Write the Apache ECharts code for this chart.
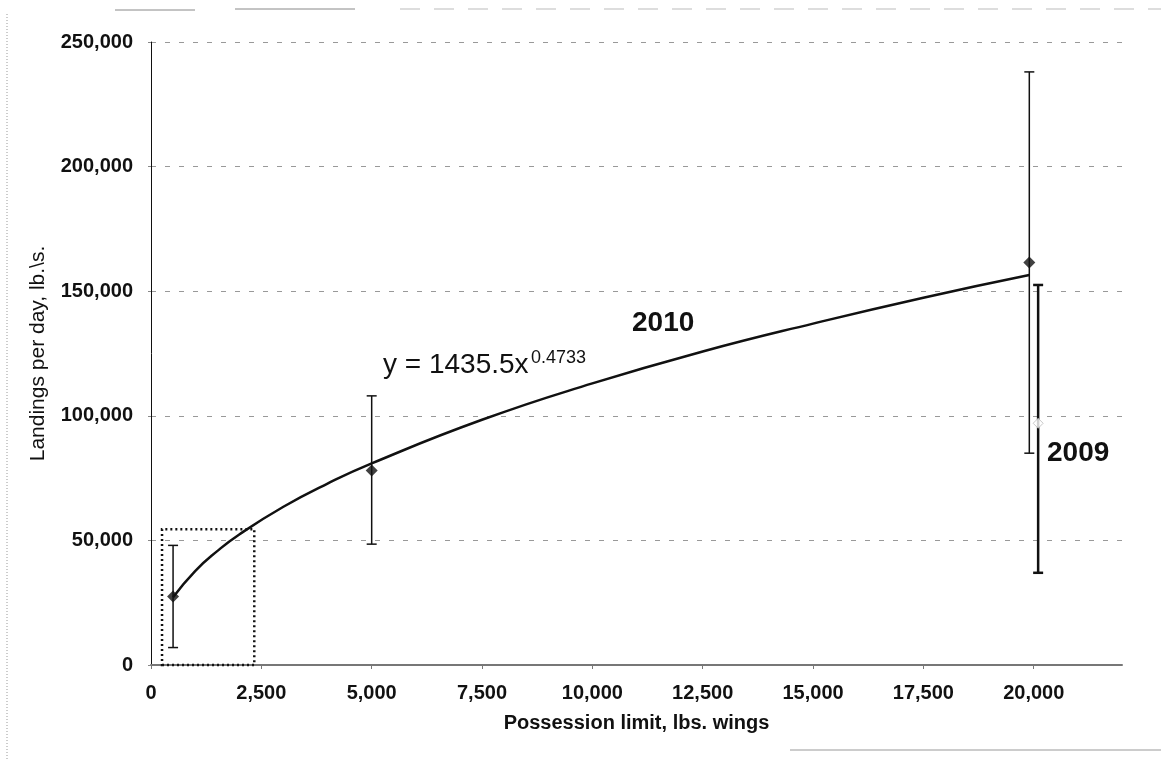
<!DOCTYPE html>
<html>
<head>
<meta charset="utf-8">
<script src="https://cdn.jsdelivr.net/npm/echarts@6/dist/echarts.min.js"></script>
<style>
  html, body { margin: 0; padding: 0; background: #fff; }
  #chart { width: 1161px; height: 759px; }
</style>
</head>
<body>
<div id="chart"></div>
<script>
// possession limit (lbs. wings) and landings per day (lbs.)
const limits2010 = [500, 5000, 19900]
const landings2010 = [27500, 78000, 161500]
const low2010 = [7000, 48500, 85000]
const high2010 = [48000, 108000, 238000]

const limits2009 = [20100]
const landings2009 = [97000]
const low2009 = [37000]
const high2009 = [152500]

// power trend line
const trendX = [500, 1000, 1500, 2000, 3000, 4000, 5000, 7500, 10000, 12500, 15000, 17500, 19900]
const trendY = [27200, 37700, 45700, 52400, 63500, 72800, 80900, 98400, 113000, 125800, 137000, 147400, 156500]

// dotted box round the low limits
const boxFrom = [250, 0]
const boxTo = [2340, 54500]

const chart = echarts.init(document.getElementById('chart'))
const fmt = v => v.toLocaleString('en-US')
const ink = '#111'

function errorBar(width) {
  return function(params, api) {
    const x = api.value(0)
    const top = api.coord([x, api.value(2)])
    const bot = api.coord([x, api.value(1)])
    const cap = 5
    const style = { stroke: ink, lineWidth: width }
    return {
      type: 'group',
      children: [
        { type: 'line', shape: { x1: top[0], y1: top[1], x2: bot[0], y2: bot[1] }, style: style },
        { type: 'line', shape: { x1: top[0] - cap, y1: top[1], x2: top[0] + cap, y2: top[1] }, style: style },
        { type: 'line', shape: { x1: bot[0] - cap, y1: bot[1], x2: bot[0] + cap, y2: bot[1] }, style: style }
      ]
    }
  }
}

chart.setOption({
  backgroundColor: '#fff',
  animation: false,
  grid: { left: 151, right: 39, top: 42, bottom: 94 },
  xAxis: {
    type: 'value',
    min: 0,
    max: 22000,
    interval: 2500,
    name: 'Possession limit, lbs. wings',
    nameLocation: 'middle',
    nameGap: 48,
    nameMoveOverlap: false,
    nameTextStyle: { fontFamily: 'Liberation Sans', fontSize: 20, fontWeight: 'bold', color: ink },
    axisLine: { lineStyle: { color: '#777', width: 2 } },
    axisTick: { show: true, length: 4, lineStyle: { color: '#777' } },
    axisLabel: {
      margin: 18,
      showMaxLabel: false,
      fontFamily: 'Liberation Sans', fontSize: 20, fontWeight: 'bold', color: ink,
      formatter: fmt
    },
    splitLine: { show: false }
  },
  yAxis: {
    type: 'value',
    min: 0,
    max: 250000,
    interval: 50000,
    name: 'Landings per day, lb.\\s.',
    nameLocation: 'middle',
    nameGap: 102,
    nameMoveOverlap: false,
    nameTextStyle: { fontFamily: 'Liberation Sans', fontSize: 21, color: ink },
    axisLine: { show: true, lineStyle: { color: ink, width: 1 } },
    axisTick: { show: true, length: 3, lineStyle: { color: '#888' } },
    axisLabel: {
      margin: 18,
      fontFamily: 'Liberation Sans', fontSize: 20, fontWeight: 'bold', color: ink,
      formatter: fmt
    },
    splitLine: { show: true, lineStyle: { color: '#999', width: 1, type: [5, 9] } }
  },
  series: [
    {
      name: 'bars 2010',
      type: 'custom',
      renderItem: errorBar(1.5),
      encode: { x: 0, y: [1, 2] },
      data: limits2010.map((x, i) => [x, low2010[i], high2010[i]]),
      z: 2
    },
    {
      name: 'bars 2009',
      type: 'custom',
      renderItem: errorBar(2.5),
      encode: { x: 0, y: [1, 2] },
      data: limits2009.map((x, i) => [x, low2009[i], high2009[i]]),
      z: 2
    },
    {
      name: 'trend',
      type: 'line',
      smooth: true,
      showSymbol: false,
      lineStyle: { color: ink, width: 2.5 },
      data: trendX.map((x, i) => [x, trendY[i]]),
      markArea: {
        silent: true,
        itemStyle: { color: 'transparent', borderColor: ink, borderWidth: 2.5, borderType: [2, 3] },
        data: [[{ coord: boxFrom }, { coord: boxTo }]]
      },
      z: 3
    },
    {
      name: '2010',
      type: 'scatter',
      symbol: 'diamond',
      symbolSize: 12,
      itemStyle: { color: ink },
      data: limits2010.map((x, i) => [x, landings2010[i]]),
      z: 4
    },
    {
      name: '2009',
      type: 'scatter',
      symbol: 'diamond',
      symbolSize: 10,
      itemStyle: { color: '#fff', borderColor: '#bbb', borderWidth: 1 },
      data: limits2009.map((x, i) => [x, landings2009[i]]),
      z: 4
    }
  ],
  graphic: [
    {
      type: 'text', left: 383, top: 351,
      style: { text: 'y = 1435.5x', font: '28px "Liberation Sans"', fill: ink }
    },
    {
      type: 'text', left: 531, top: 349,
      style: { text: '0.4733', font: '18px "Liberation Sans"', fill: ink }
    },
    {
      type: 'text', left: 632, top: 309,
      style: { text: '2010', font: 'bold 28px "Liberation Sans"', fill: ink }
    },
    {
      type: 'text', left: 1047, top: 439,
      style: { text: '2009', font: 'bold 28px "Liberation Sans"', fill: ink }
    },
    // scanned page edges
    {
      type: 'line', shape: { x1: 7, y1: 14, x2: 7, y2: 759 },
      style: { stroke: '#999', lineWidth: 1, lineDash: [1, 2] }
    },
    {
      type: 'line', shape: { x1: 115, y1: 10, x2: 195, y2: 10 },
      style: { stroke: '#888', lineWidth: 1 }
    },
    {
      type: 'line', shape: { x1: 235, y1: 9, x2: 355, y2: 9 },
      style: { stroke: '#888', lineWidth: 1 }
    },
    {
      type: 'line', shape: { x1: 400, y1: 9, x2: 1161, y2: 9 },
      style: { stroke: '#bbb', lineWidth: 1, lineDash: [20, 14] }
    },
    {
      type: 'line', shape: { x1: 790, y1: 750, x2: 1161, y2: 750 },
      style: { stroke: '#999', lineWidth: 1 }
    }
  ]
})
</script>
</body>
</html>
